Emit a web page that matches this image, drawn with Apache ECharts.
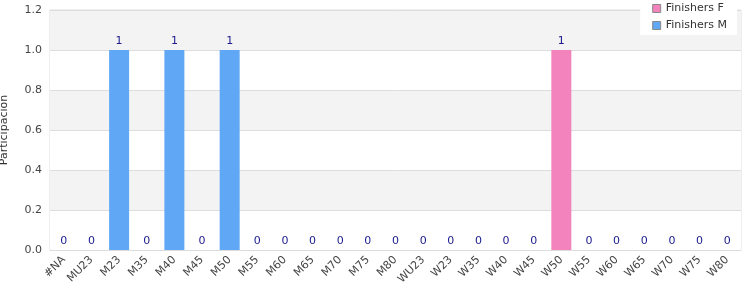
<!DOCTYPE html>
<html><head><meta charset="utf-8">
<script src="https://cdn.jsdelivr.net/npm/echarts@6/dist/echarts.min.js"></script>
<style>html,body{margin:0;padding:0;background:#fff}#c{width:750px;height:300px}</style>
</head><body><div id="c"></div>
<script>
const categories = ['#NA','MU23','M23','M35','M40','M45','M50','M55','M60','M65','M70','M75','M80','WU23','W23','W35','W40','W45','W50','W55','W60','W65','W70','W75','W80'];
const finishersF = [0,0,0,0,0,0,0,0,0,0,0,0,0,0,0,0,0,0,1,0,0,0,0,0,0];
const finishersM = [0,0,1,0,1,0,1,0,0,0,0,0,0,0,0,0,0,0,0,0,0,0,0,0,0];
const yTicks = [0, 0.2, 0.4, 0.6, 0.8, 1.0, 1.2];

const font = 'DejaVu Sans';
const chart = echarts.init(document.getElementById('c'), null, {renderer:'canvas'});
chart.setOption({
  animation: false,
  textStyle: {fontFamily: font},
  grid: {left: 50, right: 9, top: 10, bottom: 50, show: true, borderColor: '#ddd', borderWidth: 1,
         backgroundColor: 'transparent', containLabel: false, outerBoundsMode: 'none'},
  legend: {
    orient: 'vertical', right: 13, top: 0, itemGap: 6,
    backgroundColor: '#fff', padding: [3, 10, 4, 12],
    itemWidth: 8, itemHeight: 8, itemStyle: {borderColor: '#888', borderWidth: 1},
    textStyle: {fontFamily: font, fontSize: 11, color: '#333'},
    icon: 'rect',
    data: ['Finishers F', 'Finishers M']
  },
  xAxis: {
    type: 'category', data: categories,
    axisLine: {show: true, lineStyle: {color: '#ddd'}},
    axisTick: {show: false},
    axisLabel: {rotate: 45, interval: 0, fontSize: 11, color: '#444', fontFamily: font, margin: 8}
  },
  yAxis: {
    type: 'value', min: 0, max: 1.2, interval: 0.2,
    name: 'Participacion', nameLocation: 'middle', nameGap: 40,
    nameTextStyle: {fontSize: 11, color: '#333', fontFamily: font},
    axisLine: {show: false}, axisTick: {show: false},
    axisLabel: {fontSize: 11, color: '#444', fontFamily: font, formatter: v => v.toFixed(1)},
    splitLine: {show: true, lineStyle: {color: '#ddd'}},
    splitArea: {show: true, areaStyle: {color: ['#fff', '#f3f3f3']}}
  },
  series: [
    {name: 'Finishers F', type: 'bar', stack: 'a', data: finishersF, barWidth: 20,
     itemStyle: {color: '#f383bd'}},
    {name: 'Finishers M', type: 'bar', stack: 'a', data: finishersM, barWidth: 20,
     itemStyle: {color: '#60a8f5'},
     label: {show: true, position: 'top', distance: 3, color: '#1a1a8c', fontSize: 11, fontFamily: font,
       formatter: p => String(finishersF[p.dataIndex] + finishersM[p.dataIndex])}}
  ]
});
</script></body></html>
